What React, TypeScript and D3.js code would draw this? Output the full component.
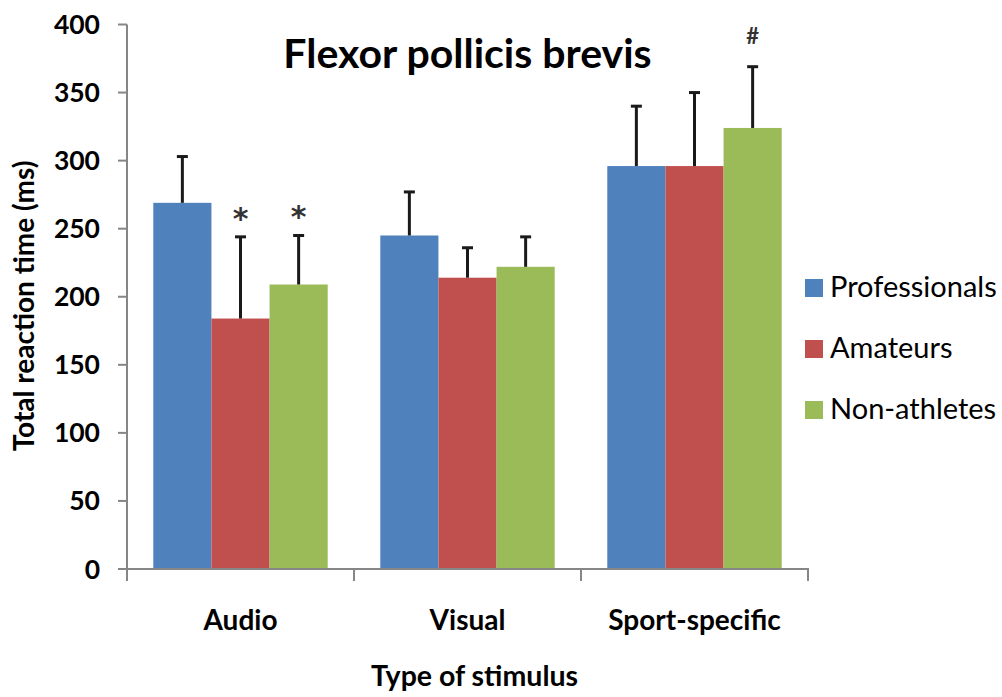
import React from 'react';
import * as d3 from 'd3';

const categories = ['Audio', 'Visual', 'Sport-specific'];
const groups = ['Professionals', 'Amateurs', 'Non-athletes'];
const colors = ['#4F81BD', '#C0504D', '#9BBB59'];
// mean values per category, one array per group
const professionals = [269, 245, 296];
const amateurs = [184, 214, 296];
const nonAthletes = [209, 222, 324];
// upper end of the SD bar
const profErr = [303, 277, 340];
const amatErr = [244, 236, 350];
const nonErr = [245, 244, 369];
const yTicks = [0, 50, 100, 150, 200, 250, 300, 350, 400];
// significance marks: [categoryIndex, groupIndex, symbol]
const marks: [number, number, string][] = [
    [0, 1, '*'],
    [0, 2, '*'],
    [2, 2, '#'],
];

const W = 1002;
const H = 697;
const font = 'Lato, "Open Sans", sans-serif';

const App = () => {
    const left = 127;
    const right = 808;
    const top = 24.5;
    const bottom = 569;

    const means = [professionals, amateurs, nonAthletes];
    const errs = [profErr, amatErr, nonErr];

    const x0 = d3.scaleBand<string>().domain(categories).range([left, right]).padding(0);
    const x1 = d3.scaleBand<string>()
        .domain(groups)
        .range([26.3, x0.bandwidth() - 26.3])
        .padding(0);
    const y = d3.scaleLinear().domain([0, 400]).range([bottom, top]);

    const xTickPos = [...categories.map(c => x0(c) as number), right];

    return (
        <svg width={W} height={H} style={{ position: 'absolute', left: 0, top: 0, background: '#fff' }}>
            <rect width={W} height={H} fill="#fff" />

            {/* bars */}
            {categories.map((c, ci) =>
                groups.map((g, gi) => (
                    <rect
                        key={c + g}
                        x={(x0(c) as number) + (x1(g) as number)}
                        y={y(means[gi][ci])}
                        width={x1.bandwidth()}
                        height={bottom - y(means[gi][ci])}
                        fill={colors[gi]}
                    />
                ))
            )}

            {/* error bars */}
            {categories.map((c, ci) =>
                groups.map((g, gi) => {
                    const cx = (x0(c) as number) + (x1(g) as number) + x1.bandwidth() / 2;
                    return (
                        <g key={'e' + c + g} stroke="#1a1a1a" strokeWidth={3}>
                            <line x1={cx} x2={cx} y1={y(means[gi][ci])} y2={y(errs[gi][ci])} />
                            <line x1={cx - 5.5} x2={cx + 5.5} y1={y(errs[gi][ci])} y2={y(errs[gi][ci])} />
                        </g>
                    );
                })
            )}

            {/* significance marks */}
            {marks.map(([ci, gi, s]) => {
                const cx = (x0(categories[ci]) as number) + (x1(groups[gi]) as number) + x1.bandwidth() / 2;
                const star = s === '*';
                return (
                    <text
                        key={'m' + ci + gi}
                        x={cx}
                        y={star ? y(errs[gi][ci]) - 25 + 17 : y(errs[gi][ci]) - 31 + 8}
                        textAnchor="middle"
                        fontFamily={star ? '"DejaVu Sans", sans-serif' : font}
                        fontWeight="bold"
                        fontSize={star ? 30 : 22}
                        fill="#333"
                    >
                        {s}
                    </text>
                );
            })}

            {/* y axis */}
            <line x1={left} x2={left} y1={top} y2={bottom} stroke="#868686" strokeWidth={2} />
            {yTicks.map(t => (
                <g key={'yt' + t}>
                    <line x1={left - 9} x2={left} y1={y(t)} y2={y(t)} stroke="#868686" strokeWidth={2} />
                    <text
                        x={100}
                        y={y(t)}
                        dy="0.36em"
                        textAnchor="end"
                        fontFamily={font}
                        fontWeight="bold"
                        fontSize={26.5}
                        fill="#000"
                    >
                        {t}
                    </text>
                </g>
            ))}

            {/* x axis */}
            <line x1={left - 1} x2={right + 1} y1={bottom} y2={bottom} stroke="#868686" strokeWidth={2} />
            {xTickPos.map((p, i) => (
                <line key={'xt' + i} x1={p} x2={p} y1={bottom} y2={bottom + 12} stroke="#868686" strokeWidth={2} />
            ))}
            {categories.map(c => (
                <text
                    key={'xl' + c}
                    x={(x0(c) as number) + x0.bandwidth() / 2}
                    y={630}
                    textAnchor="middle"
                    fontFamily={font}
                    fontWeight="bold"
                    fontSize={28}
                    fill="#000"
                >
                    {c}
                </text>
            ))}

            {/* axis titles */}
            <text
                x={(left + right) / 2 + 7}
                y={686}
                textAnchor="middle"
                fontFamily={font}
                fontWeight="bold"
                fontSize={28.5}
                fill="#000"
            >
                Type of stimulus
            </text>
            <text
                transform={`translate(34,306) rotate(-90)`}
                textAnchor="middle"
                fontFamily={font}
                fontWeight="bold"
                fontSize={28}
                fill="#000"
            >
                Total reaction time (ms)
            </text>

            {/* chart title */}
            <text
                x={467.5}
                y={68}
                textAnchor="middle"
                fontFamily={font}
                fontWeight="bold"
                fontSize={41}
                fill="#000"
            >
                Flexor pollicis brevis
            </text>

            {/* legend */}
            {groups.map((g, gi) => (
                <g key={'lg' + g} transform={`translate(805,${279 + gi * 61})`}>
                    <rect width={18} height={18} fill={colors[gi]} />
                    <text x={25} y={18} fontFamily={font} fontSize={29} fill="#000">
                        {g}
                    </text>
                </g>
            ))}
        </svg>
    );
};

export default App;
